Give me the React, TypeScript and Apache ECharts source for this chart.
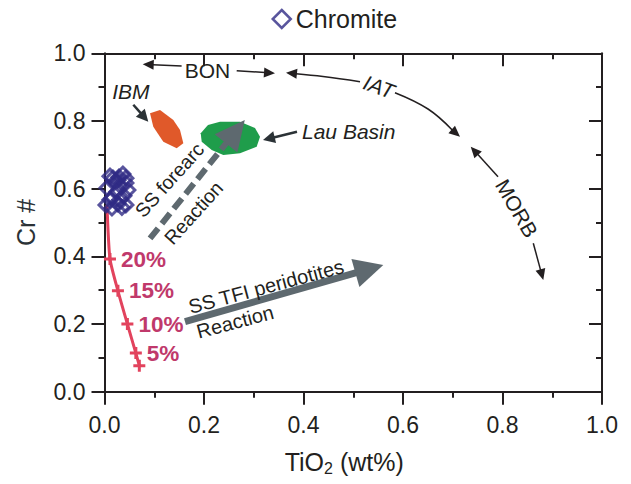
import React, { useEffect, useRef } from 'react';
import * as echarts from 'echarts';

const FONT = '"Liberation Sans", Arial, Helvetica, sans-serif';
const INK = '#231f20';
const CHROMITE = '#2f2a85';
const MELT = '#e2435d';
const MELT_TEXT = '#c0396b';
const GRAY = '#5e696f';
const IBM_FILL = '#e0592a';
const LAU_FILL = '#1f9d4b';

// axis range
const AXIS_MIN = 0;
const AXIS_MAX = 1;
const AXIS_STEP = 0.2;

// Chromite analyses (TiO2 wt%, Cr#)
const chromiteTiO2 = [0.003, 0.005, 0.015, 0.019, 0.025, 0.029, 0.033, 0.037, 0.039, 0.027, 0.043, 0.015, 0.035, 0.011, 0.017, 0.043, 0.047, 0.011, 0.031, 0.043, 0.027];
const chromiteCr = [0.552, 0.602, 0.572, 0.617, 0.591, 0.634, 0.607, 0.643, 0.579, 0.555, 0.617, 0.543, 0.545, 0.637, 0.631, 0.631, 0.596, 0.567, 0.567, 0.552, 0.625];

// melting trend
const meltTiO2 = [0.005, 0.011, 0.027, 0.046, 0.063, 0.070];
const meltCr = [0.552, 0.392, 0.298, 0.2, 0.114, 0.077];
const meltLabels = ['', '20%', '15%', '10%', '5%', ''];

// fields
const ibmField = [[0.0915, 0.8227], [0.1116, 0.8325], [0.1383, 0.8029], [0.1518, 0.7733], [0.1584, 0.734], [0.1451, 0.7193], [0.1182, 0.7388], [0.0981, 0.7831]];
const lauField = [[0.1934, 0.7636], [0.208, 0.788], [0.2322, 0.7979], [0.2724, 0.7979], [0.3025, 0.7793], [0.3126, 0.7535], [0.3059, 0.724], [0.2724, 0.7045], [0.2388, 0.6995], [0.2155, 0.7143], [0.1954, 0.7388]];

// reaction arrows
const forearcArrow = [[0.0915, 0.453], [0.282, 0.803]];
const tfiArrow = [[0.1618, 0.2069], [0.5604, 0.3743]];

// thin arrows (last point = tip)
const thinArrows = [
  [[0.155, 0.9625], [0.0768, 0.9675]],
  [[0.2657, 0.9486], [0.3427, 0.9409]],
  [[0.5136, 0.9161], [0.4392, 0.9314], [0.3648, 0.9427]],
  [[0.5839, 0.8836], [0.6503, 0.8354], [0.7146, 0.7535]],
  [[0.791, 0.6353], [0.7361, 0.724]],
  [[0.8619, 0.4385], [0.882, 0.3301]],
];
const pointerArrows = [
  [[0.0579, 0.8479], [0.088, 0.798]],
  [[0.3869, 0.7683], [0.3186, 0.7437]],
];

const annotationTexts = [
  { text: 'BON', at: [0.207, 0.948], rot: 0, italic: false, align: 'center', size: 21 },
  { text: 'IAT', at: [0.5518, 0.9013], rot: -20, italic: true, align: 'center', size: 21 },
  { text: 'MORB', at: [0.8286, 0.542], rot: -60, italic: false, align: 'center', size: 21 },
  { text: 'IBM', at: [0.0529, 0.8865], rot: 0, italic: true, align: 'center', size: 21 },
  { text: 'Lau Basin', at: [0.397, 0.7686], rot: 0, italic: true, align: 'left', size: 21 },
  { text: 'SS forearc', at: [0.0683, 0.5251], rot: 48, italic: false, align: 'left', size: 19.5 },
  { text: 'Reaction', at: [0.127, 0.4444], rot: 48, italic: false, align: 'left', size: 19.5 },
  { text: 'SS TFI peridotites', at: [0.1698, 0.2497], rot: 15, italic: false, align: 'left', size: 20 },
  { text: 'Reaction', at: [0.1859, 0.1764], rot: 15, italic: false, align: 'left', size: 20 },
];

function head(tip: number[], from: number[], len: number, halfW: number) {
  const dx = tip[0] - from[0];
  const dy = tip[1] - from[1];
  const d = Math.hypot(dx, dy) || 1;
  const ux = dx / d;
  const uy = dy / d;
  const bx = tip[0] - ux * len;
  const by = tip[1] - uy * len;
  return {
    base: [bx + ux * 1, by + uy * 1],
    pts: [tip, [bx - uy * halfW, by + ux * halfW], [bx + uy * halfW, by - ux * halfW]],
  };
}

function arrowElems(ptsData: number[][], api: any, opt: any) {
  const pts = ptsData.map((p) => api.coord(p));
  const n = pts.length;
  const h = head(pts[n - 1], pts[n - 2], opt.len, opt.halfW);
  const shaft = pts.slice(0, n - 1).concat([h.base]);
  return [
    {
      type: 'polyline',
      shape: { points: shaft, smooth: n > 2 ? 0.4 : 0 },
      style: { stroke: opt.color, lineWidth: opt.width, fill: 'none', lineDash: opt.dash || null },
    },
    { type: 'polygon', shape: { points: h.pts }, style: { fill: opt.color, stroke: 'none' } },
  ];
}

function renderAnnotations(_params: any, api: any) {
  const children: any[] = [];
  children.push({ type: 'polygon', shape: { points: ibmField.map((p) => api.coord(p)) }, style: { fill: IBM_FILL } });
  children.push({ type: 'polygon', shape: { points: lauField.map((p) => api.coord(p)) }, style: { fill: LAU_FILL } });
  children.push(...arrowElems(forearcArrow, api, { color: GRAY, width: 6, len: 30, halfW: 14.5, dash: [13, 6] }));
  children.push(...arrowElems(tfiArrow, api, { color: GRAY, width: 7, len: 29, halfW: 14.5 }));
  thinArrows.forEach((a) => children.push(...arrowElems(a, api, { color: INK, width: 1.5, len: 11, halfW: 5 })));
  pointerArrows.forEach((a) => children.push(...arrowElems(a, api, { color: '#2b3236', width: 2.5, len: 12, halfW: 6 })));
  annotationTexts.forEach((t) => {
    const p = api.coord(t.at);
    children.push({
      type: 'text',
      x: p[0],
      y: p[1],
      rotation: (t.rot * Math.PI) / 180,
      style: {
        text: t.text,
        fill: INK,
        fontSize: t.size,
        fontFamily: FONT,
        fontStyle: t.italic ? 'italic' : 'normal',
        align: t.align,
        verticalAlign: 'middle',
      },
    });
  });
  return { type: 'group', children };
}

const tickLine = { color: INK, width: 2 };

function baseAxis(position: string, showLabel: boolean, inside: boolean) {
  return {
    type: 'value',
    position,
    min: AXIS_MIN,
    max: AXIS_MAX,
    interval: AXIS_STEP,
    axisLine: { show: true, onZero: false, lineStyle: { color: INK, width: 2 } },
    axisTick: { show: true, inside, length: 13, lineStyle: tickLine },
    minorTick: { show: true, splitNumber: 2, length: 6, lineStyle: tickLine },
    splitLine: { show: false },
    minorSplitLine: { show: false },
    axisLabel: {
      show: showLabel,
      formatter: (v: number) => v.toFixed(1),
      fontSize: 23,
      color: INK,
      fontFamily: FONT,
    },
  };
}

export default function App() {
  const ref = useRef<HTMLDivElement>(null);
  useEffect(() => {
    if (!ref.current) return;
    const chart = echarts.init(ref.current, undefined, { renderer: 'svg' });
    const xBottom: any = baseAxis('bottom', true, false);
    xBottom.axisLabel.margin = 22;
    xBottom.name = '{a|TiO}{b|2}{a| (wt%)}';
    xBottom.nameLocation = 'middle';
    xBottom.nameGap = 55;
    xBottom.nameTextStyle = {
      padding: [0, 18, 0, 0],
      rich: {
        a: { fontSize: 25, fontFamily: FONT, color: INK, lineHeight: 30, verticalAlign: 'middle' },
        b: { fontSize: 16, fontFamily: FONT, color: INK, lineHeight: 30, verticalAlign: 'bottom', padding: [12, 0, 0, 0] },
      },
    };
    const xTop: any = baseAxis('top', false, true);
    const yLeft: any = baseAxis('left', true, false);
    yLeft.axisLabel.margin = 19;
    yLeft.name = 'Cr #';
    yLeft.nameLocation = 'middle';
    yLeft.nameGap = 66;
    yLeft.nameTextStyle = { fontSize: 25, fontFamily: FONT, color: '#2b3236' };
    const yRight: any = baseAxis('right', false, true);

    chart.setOption({
      animation: false,
      backgroundColor: '#ffffff',
      grid: { left: 104.5, right: 29, top: 53.3, bottom: 92.3, containLabel: false },
      legend: {
        data: ['Chromite'],
        left: 266.5,
        top: 1.5,
        icon: 'diamond',
        itemWidth: 18,
        itemHeight: 18,
        itemStyle: { color: 'rgba(0,0,0,0)', borderColor: CHROMITE, borderWidth: 2.5 },
        textStyle: { fontSize: 25, color: INK, fontFamily: FONT },
      },
      xAxis: [xBottom, xTop],
      yAxis: [yLeft, yRight],
      series: [
        {
          type: 'custom',
          name: 'annotations',
          xAxisIndex: 0,
          yAxisIndex: 0,
          silent: true,
          clip: false,
          z: 1,
          data: [[0, 0]],
          renderItem: renderAnnotations,
        },
        {
          type: 'line',
          name: 'melting',
          xAxisIndex: 0,
          yAxisIndex: 0,
          z: 2,
          smooth: 0.2,
          symbol: 'path://M0,4.5H12V7.5H0Z M4.5,0H7.5V12H4.5Z',
          symbolSize: 12,
          lineStyle: { color: MELT, width: 3 },
          itemStyle: { color: MELT },
          label: {
            show: true,
            position: 'right',
            distance: 5,
            formatter: (p: any) => meltLabels[p.dataIndex],
            fontSize: 22.5,
            fontWeight: 'bold',
            fontFamily: FONT,
            color: MELT_TEXT,
          },
          data: meltTiO2.map((x, i) => (i === 0 ? { value: [x, meltCr[i]], symbol: 'none' } : [x, meltCr[i]])),
        },
        {
          type: 'scatter',
          name: 'Chromite',
          xAxisIndex: 0,
          yAxisIndex: 0,
          z: 3,
          symbol: 'diamond',
          symbolSize: 14,
          itemStyle: { color: 'rgba(0,0,0,0)', borderColor: CHROMITE, borderWidth: 3 },
          data: chromiteTiO2.map((x, i) => [x, chromiteCr[i]]),
        },
      ],
    });
    return () => chart.dispose();
  }, []);
  return <div ref={ref} style={{ position: 'fixed', left: 0, top: 0, width: 631, height: 484 }} />;
}
